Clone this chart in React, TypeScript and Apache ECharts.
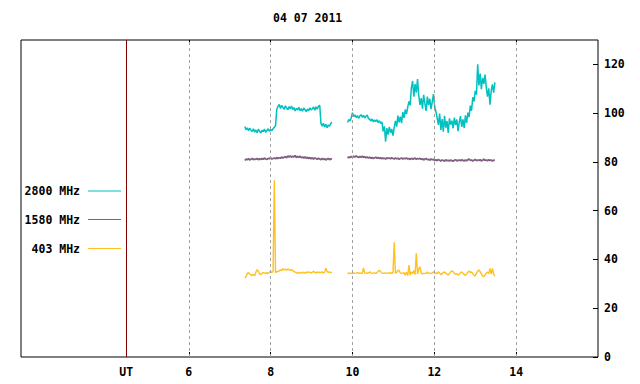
import React, { useEffect, useRef } from 'react';
import * as echarts from 'echarts';

const TITLE = '04 07 2011';
const UT_POS = 4.47;
const X_TICKS = [UT_POS, 6, 8, 10, 12, 14];
const GRID_HOURS = [6, 8, 10, 12, 14];
const Y_TICKS = [0, 20, 40, 60, 80, 100, 120];
const X_MIN = 1.9;
const X_MAX = 16;
const Y_MAX = 130;

const SEG1_START = 7.37;
const SEG2_START = 9.88;
const STEP = 0.03;

const LEGEND_NAMES = ['2800 MHz', '1580 MHz', '403 MHz'];
const COLORS = ['#00c0c0', '#7f6080', '#ffc020'];
const LINE_WIDTHS = [1.5, 1.8, 1.4];

// 2800 MHz
const mhz2800a = [
  94.5, 93.2, 94.0, 92.8, 93.9, 93.0, 92.5, 93.6, 92.2, 93.1, 92.0, 93.4, 92.6, 91.8, 93.0, 92.4, 93.5, 92.1, 92.9, 93.6,
  92.5, 93.3, 92.8, 93.6, 94.2, 94.8,
  101.5, 102.8, 103.6, 101.9, 103.2, 102.4, 101.6, 103.0, 102.2, 101.4, 102.7, 101.8, 102.9, 101.5, 102.3, 100.9, 102.0,
  101.3, 102.4, 101.0, 101.9, 100.8, 102.1, 101.4, 100.6, 101.7, 101.0, 102.2, 101.3, 101.8, 102.5, 101.2, 102.6, 101.6,
  102.9, 103.2,
  95.8, 94.6, 95.9, 94.3, 95.4, 94.0, 95.1, 94.7, 95.8, 96.2,
];
const mhz2800b = [
  96.2, 97.4, 96.8, 98.1,
  100.2, 98.6, 99.3, 98.2, 99.0, 97.9, 98.8, 99.4, 98.3, 99.1, 98.0, 98.7, 99.2, 97.8,
  97.5, 96.8, 97.6, 96.4, 97.2, 96.6, 97.3, 96.1, 96.9, 95.8, 96.4,
  92.5, 94.6, 88.3, 93.9, 91.2, 94.4, 92.0, 93.5, 90.8, 94.2,
  96.8, 94.5, 99.0, 96.2, 98.6, 95.9, 100.4, 98.1, 101.5, 99.6,
  102.5, 104.8, 103.2,
  110.5, 113.2, 106.8, 111.9, 108.4, 114.0, 107.2,
  103.4, 106.2, 101.8, 107.5, 104.0, 100.9, 106.8, 103.3, 105.9, 101.6, 104.7, 107.8, 102.5,
  100.6, 98.0,
  95.2, 99.8, 93.1, 97.6, 92.4, 98.9, 94.0, 96.8, 91.9, 97.9, 95.3,
  96.9, 93.8, 98.2, 95.1, 97.4, 92.6, 96.3, 98.8, 94.4, 97.5, 93.9, 99.1, 96.0,
  100.2, 98.4, 103.1, 101.0,
  106.5, 104.8, 109.2, 107.6,
  120.0, 111.4, 116.2, 109.8, 114.5, 112.0, 115.8, 110.6,
  106.8, 110.2, 103.5, 109.1,
  111.8, 108.4, 112.6,
];

// 1580 MHz
const mhz1580a = [
  80.6, 81.2, 80.9, 81.3, 80.8, 81.1, 81.4, 80.9, 81.2, 81.0, 81.5, 80.9,
  81.3, 81.0, 81.4, 81.1, 81.6, 81.2, 81.0, 81.5, 81.3, 81.7, 81.2, 81.4,
  81.6, 81.3, 81.8, 81.4, 81.7, 81.5, 82.0, 81.6, 81.9, 82.2, 81.7, 82.4,
  82.0, 82.5, 81.9, 82.3, 82.1, 82.6, 81.8, 82.2, 81.9, 82.3, 81.7, 82.0,
  81.6, 82.1, 81.5, 81.9, 81.4, 81.8, 81.3, 81.7, 81.2, 81.6, 81.4, 81.1,
  81.5, 81.2, 80.9, 81.4, 81.0, 81.3, 80.8, 81.2, 81.4, 80.9, 81.3, 81.1,
];
const mhz1580b = [
  81.6, 82.0, 81.8, 82.2, 81.9, 82.3, 82.0, 82.4, 82.1, 81.8, 82.2, 81.9,
  82.3, 81.9, 82.1, 81.7, 82.0, 81.6, 81.9, 81.5, 81.8, 81.4, 81.7, 81.9,
  81.5, 81.8, 81.4, 81.7, 81.3, 81.6, 81.5, 81.2, 81.7, 81.4, 81.6, 81.3,
  81.7, 81.4, 81.2, 81.6, 81.3, 81.5, 81.1, 81.4, 81.6, 81.2, 81.5, 81.3,
  81.6, 81.2, 81.4, 81.0, 81.5, 81.2, 81.3, 81.6, 81.1, 81.4, 81.2, 81.5,
  81.0, 81.3, 80.8, 81.2, 81.4, 80.9, 81.1, 80.7, 81.2, 80.9, 81.0, 80.6,
  80.9, 80.5, 81.0, 80.7, 80.4, 80.8, 80.6, 80.3, 80.9, 80.5, 80.7, 80.4,
  80.8, 80.5, 80.3, 80.7, 80.9, 80.4, 80.6, 80.8, 80.5, 80.9, 80.6, 80.4,
  80.8, 80.5, 80.9, 81.2, 80.6, 80.8, 80.4, 80.7, 81.0, 80.5, 80.8, 80.6,
  80.9, 80.4, 80.7, 81.1, 80.6, 80.8, 80.5, 80.9, 80.6, 80.8, 80.4, 80.7, 80.6,
];

// 403 MHz
const mhz403a = [
  32.4, 33.0, 34.2, 34.6, 34.0, 33.7, 33.4, 33.9, 33.3, 34.8,
  35.8, 35.2, 34.0, 33.8, 34.3, 34.6,
  34.5, 34.3, 34.6, 34.2, 34.8, 35.0, 34.6, 35.2,
  72.5,
  34.6, 35.1, 35.0, 35.3, 35.8, 35.4, 36.2, 35.7, 36.0, 35.6, 36.1,
  35.8, 35.5, 35.9, 35.4, 35.1, 34.8, 34.6, 34.3, 34.7,
  34.5, 34.3, 34.8, 34.6, 34.4, 34.8, 34.6, 34.9, 34.7, 34.5, 34.8,
  35.1, 34.7, 34.5, 34.9, 34.6, 34.8, 34.6,
  34.9, 34.5, 34.8, 36.4, 35.2, 34.7, 34.9, 34.6, 34.7,
];
const mhz403b = [
  34.0, 34.5, 34.3, 34.4, 34.2, 34.5, 34.3, 34.4, 34.6, 34.3, 34.5, 34.4, 34.3,
  36.5,
  34.4, 34.3, 34.5, 34.4, 34.9, 34.5, 34.3, 34.4, 34.5, 34.3, 34.6, 35.2,
  35.6, 35.0, 34.4, 34.3, 34.5, 34.4, 34.3, 34.5, 34.4, 34.6, 34.3, 34.5,
  47.0,
  34.4, 34.6, 35.6, 35.4, 34.5, 34.3, 34.4, 34.6, 33.5, 34.8, 33.4,
  37.7,
  33.6, 34.9, 34.2, 35.5, 33.8,
  42.5,
  34.0, 36.0,
  37.0,
  34.3, 34.1, 34.4, 34.3, 34.2, 34.9, 34.3,
  34.4, 34.3, 34.5, 34.9, 34.3, 34.5, 34.2, 35.0, 34.3, 33.8, 34.2, 34.6, 34.9, 34.4,
  34.0, 33.6, 34.2, 34.8, 35.4, 35.0, 34.3, 33.8, 34.1, 33.6, 34.0, 34.6, 34.9, 34.3, 33.9,
  33.4, 34.0, 34.8, 35.3, 34.6, 34.9, 34.2, 33.5, 33.3, 34.4, 35.2, 35.7, 35.0, 34.1, 33.2,
  33.0, 33.6, 34.4, 34.8, 34.2, 36.3, 34.0, 36.3, 34.1, 33.2,
];

const FONT = '"DejaVu Sans Mono", monospace';

function toPairs(start: number, values: number[]) {
  return values.map((v, i) => [Number((start + i * STEP).toFixed(3)), v]);
}

export default function App() {
  const ref = useRef<HTMLDivElement>(null);

  useEffect(() => {
    if (!ref.current) return;
    const chart = echarts.init(ref.current, null, { renderer: 'svg' });

    const segments = [
      { k: 0, data: toPairs(SEG1_START, mhz2800a) },
      { k: 0, data: toPairs(SEG2_START, mhz2800b) },
      { k: 1, data: toPairs(SEG1_START, mhz1580a) },
      { k: 1, data: toPairs(SEG2_START, mhz1580b) },
      { k: 2, data: toPairs(SEG1_START, mhz403a) },
      { k: 2, data: toPairs(SEG2_START, mhz403b) },
    ];

    const series: any[] = segments.map((s) => ({
      type: 'line',
      name: LEGEND_NAMES[s.k],
      data: s.data,
      showSymbol: false,
      symbol: 'none',
      silent: true,
      lineStyle: { color: COLORS[s.k], width: LINE_WIDTHS[s.k] },
      itemStyle: { color: COLORS[s.k] },
      z: 3,
    }));

    // Grid lines + UT marker
    series.push({
      type: 'line',
      data: [],
      silent: true,
      z: 1,
      markLine: {
        silent: true,
        symbol: ['none', 'none'],
        label: { show: false },
        animation: false,
        data: [
          ...GRID_HOURS.map((h) => ({
            xAxis: h,
            lineStyle: { color: '#a0a0a0', type: [3, 3], width: 1 },
          })),
          { xAxis: UT_POS, lineStyle: { color: '#800000', type: 'solid', width: 1 } },
        ],
      },
    });

    const legendGraphics: any[] = [];
    const legendY = [191, 219.5, 248.5];
    LEGEND_NAMES.forEach((n, i) => {
      legendGraphics.push({
        type: 'text',
        x: 80,
        y: legendY[i],
        style: {
          text: n,
          fill: '#000',
          font: `bold 11.5px ${FONT}`,
          textAlign: 'right',
          align: 'right',
          textVerticalAlign: 'middle',
          verticalAlign: 'middle',
        },
      });
      legendGraphics.push({
        type: 'line',
        shape: { x1: 88, y1: legendY[i], x2: 121, y2: legendY[i] },
        style: { stroke: COLORS[i], lineWidth: 1 },
      });
    });

    chart.setOption({
      animation: false,
      backgroundColor: '#fff',
      title: {
        text: TITLE,
        left: 273,
        top: 12,
        padding: 0,
        textStyle: { fontFamily: FONT, fontSize: 11.5, fontWeight: 'bold', color: '#000' },
      },
      grid: {
        left: 21,
        right: 42,
        top: 40,
        bottom: 27,
        show: true,
        borderColor: '#000',
        borderWidth: 1,
        backgroundColor: 'transparent',
        containLabel: false,
      },
      xAxis: [
        {
          type: 'value',
          min: X_MIN,
          max: X_MAX,
          position: 'bottom',
          axisLine: { show: false },
          splitLine: { show: false },
          axisTick: {
            show: true,
            inside: true,
            length: 5,
            customValues: GRID_HOURS,
            lineStyle: { color: '#000' },
          },
          axisLabel: {
            customValues: X_TICKS,
            margin: 9,
            fontFamily: FONT,
            fontSize: 11.5,
            fontWeight: 'bold',
            color: '#000',
            formatter: (v: number) => (Math.abs(v - UT_POS) < 1e-6 ? 'UT' : String(v)),
          },
        },
        {
          type: 'value',
          min: X_MIN,
          max: X_MAX,
          position: 'top',
          axisLine: { show: false },
          splitLine: { show: false },
          axisTick: {
            show: true,
            inside: true,
            length: 5,
            customValues: GRID_HOURS,
            lineStyle: { color: '#000' },
          },
          axisLabel: { show: false },
        },
      ],
      yAxis: {
        type: 'value',
        min: 0,
        max: Y_MAX,
        position: 'right',
        axisLine: { show: false },
        splitLine: { show: false },
        axisTick: {
          show: true,
          inside: true,
          length: 5,
          customValues: Y_TICKS,
          lineStyle: { color: '#000' },
        },
        axisLabel: {
          customValues: Y_TICKS,
          margin: 6,
          fontFamily: FONT,
          fontSize: 11.5,
          fontWeight: 'bold',
          color: '#000',
        },
      },
      graphic: legendGraphics,
      series,
    });

    return () => chart.dispose();
  }, []);

  return (
    <div
      ref={ref}
      style={{ position: 'fixed', left: 0, top: 0, width: 640, height: 384 }}
    />
  );
}
